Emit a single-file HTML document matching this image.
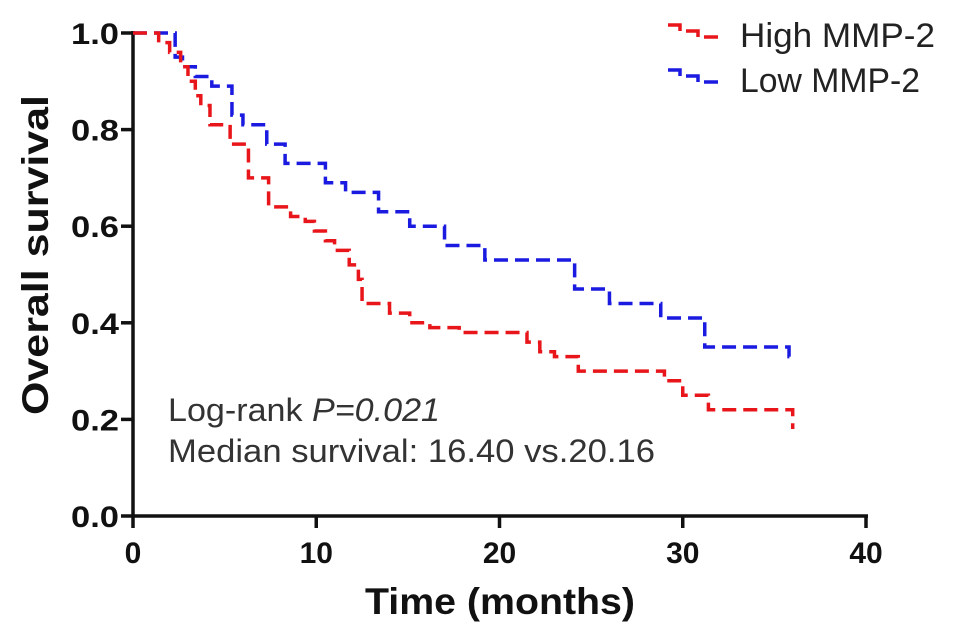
<!DOCTYPE html>
<html><head><meta charset="utf-8"><style>
html,body{margin:0;padding:0;background:#fff;}
svg{display:block;font-family:"Liberation Sans",Arial,sans-serif;}
</style></head><body>
<svg id="chart" width="969" height="632" viewBox="0 0 969 632">
<g id="axes"></g><g id="series"></g>
<g>
 <g>
  <path d="M668 25 L680 25 L680 31 M686 31 L698 31 L698 37 M704 37 L718 37" stroke="#e8161b" stroke-width="3.5" fill="none"/>
  <text x="740" y="47" font-size="34" fill="#222" textLength="195" lengthAdjust="spacingAndGlyphs">High MMP-2</text></g>
 <g>
  <path d="M668 70 L680 70 L680 76 M686 76 L698 76 L698 82 M704 82 L718 82" stroke="#1a1ae0" stroke-width="3.5" fill="none"/>
  <text x="740" y="92" font-size="34" fill="#222" textLength="180" lengthAdjust="spacingAndGlyphs">Low MMP-2</text></g>
</g>
<text x="168" y="421" font-size="32" fill="#333" textLength="272" lengthAdjust="spacingAndGlyphs">Log-rank <tspan font-style="italic">P=0.021</tspan></text>
<text x="168" y="462" font-size="32" fill="#333" textLength="487" lengthAdjust="spacingAndGlyphs">Median survival: 16.40 vs.20.16</text>
<text x="365" y="614" font-size="37" font-weight="bold" fill="#111" textLength="270" lengthAdjust="spacingAndGlyphs">Time (months)</text>
<text transform="translate(48,415) rotate(-90)" font-size="37" font-weight="bold" fill="#111" textLength="320" lengthAdjust="spacingAndGlyphs">Overall survival</text>
</svg>
<script>
const xTicks=[0,10,20,30,40];
const yTicks=[0.0,0.2,0.4,0.6,0.8,1.0];
const highTimes=[0,1.4,2.0,2.6,3.0,3.4,3.7,4.2,5.3,6.3,7.4,8.6,9.4,9.9,10.5,11.0,11.8,12.3,12.5,14.0,15.1,16.2,17.8,21.5,22.2,23.0,24.3,29.0,30.0,31.4,36.0];
const highSurv=[1.0,0.98,0.96,0.93,0.90,0.87,0.85,0.81,0.77,0.70,0.64,0.62,0.61,0.59,0.57,0.55,0.52,0.49,0.44,0.42,0.40,0.39,0.38,0.36,0.34,0.33,0.30,0.28,0.25,0.22,0.18];
const lowTimes=[0,2.3,2.7,3.4,4.3,5.4,6.0,7.3,8.3,10.5,11.6,13.4,15.1,17.0,19.2,24.1,26.0,28.8,31.2,35.8,36.0];
const lowSurv=[1.0,0.95,0.93,0.91,0.89,0.83,0.81,0.77,0.73,0.69,0.67,0.63,0.60,0.56,0.53,0.47,0.44,0.41,0.35,0.33,0.33];
const NS="http://www.w3.org/2000/svg";
const X0=133,X1=866,Y0=516,Y1=33;
const sx=v=>X0+(v-0)/40*(X1-X0);
const sy=v=>Y0-v*(Y0-Y1);
const axes=document.getElementById('axes');
function mk(t,a,p){const e=document.createElementNS(NS,t);for(const k in a)e.setAttribute(k,a[k]);p.appendChild(e);return e;}
let e=mk('line',{x1:X0,y1:Y0,x2:X1+2,y2:Y0,stroke:'#111','stroke-width':3.5},axes);


e=mk('line',{x1:X0,y1:Y1-2,x2:X0,y2:Y0+1,stroke:'#111','stroke-width':3.5},axes);


xTicks.forEach(t=>{
 mk('line',{x1:sx(t),y1:Y0,x2:sx(t),y2:Y0+12,stroke:'#111','stroke-width':3.5},axes);
 const l=mk('text',{x:sx(t),y:Y0+47,'font-size':30,'font-weight':'bold','text-anchor':'middle',fill:'#111'},axes);
 l.textContent=t;
 
 
});
yTicks.forEach(t=>{
 mk('line',{x1:X0-12,y1:sy(t),x2:X0,y2:sy(t),stroke:'#111','stroke-width':3.5},axes);
 const l=mk('text',{x:X0-14,y:sy(t)+11,'font-size':30,'font-weight':'bold','text-anchor':'end',fill:'#111',textLength:48,lengthAdjust:'spacingAndGlyphs'},axes);
 l.textContent=t.toFixed(1);
 
 
});
function stepPath(ts,ss){let d='M'+sx(ts[0])+' '+sy(ss[0]);for(let i=1;i<ts.length;i++){d+=' H'+sx(ts[i])+' V'+sy(ss[i]);}return d;}
const ser=document.getElementById('series');
let p=mk('path',{d:stepPath(lowTimes,lowSurv),stroke:'#1a1ae0','stroke-width':3.5,fill:'none','stroke-dasharray':'14 7'},ser);


p=mk('path',{d:stepPath(highTimes,highSurv),stroke:'#e8161b','stroke-width':3.5,fill:'none','stroke-dasharray':'14 7'},ser);


</script>
</body></html>
